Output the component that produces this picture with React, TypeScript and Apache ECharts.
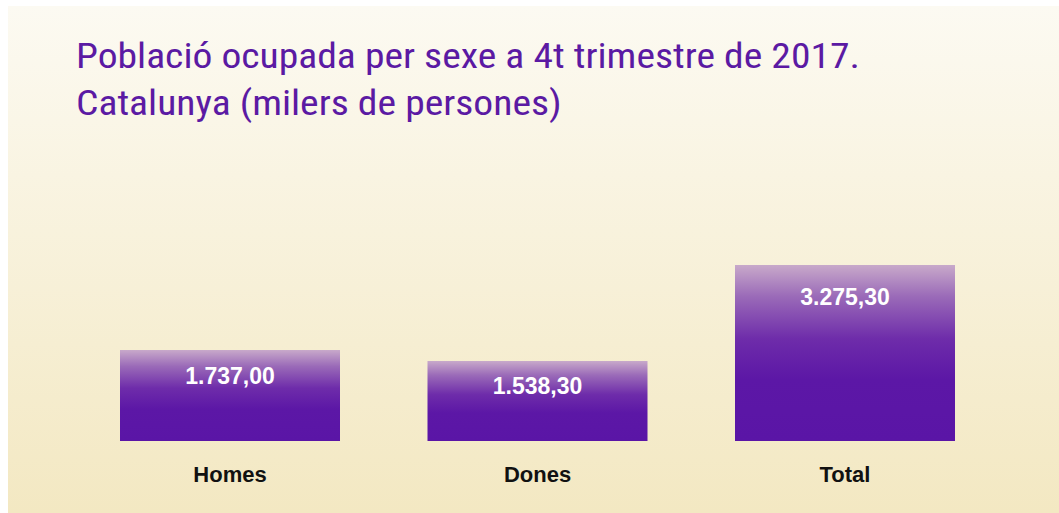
import React, { useEffect, useRef } from "react";
import * as echarts from "echarts";

const titleText = "Població ocupada per sexe a 4t trimestre de 2017.\nCatalunya (milers de persones)";
const categories = ["Homes", "Dones", "Total"];
const values = [1737.0, 1538.3, 3275.3];
const labelTexts = ["1.737,00", "1.538,30", "3.275,30"];
const labelDistances = [14, 14, 20];

export default function App() {
  const ref = useRef<HTMLDivElement>(null);
  useEffect(() => {
    if (!ref.current) return;
    const chart = echarts.init(ref.current, null, { renderer: "svg" });
    const barGradient = new echarts.graphic.LinearGradient(0, 0, 0, 1, [
      { offset: 0, color: "#c8a9ca" },
      { offset: 0.18, color: "#9a6ab8" },
      { offset: 0.42, color: "#6e2caa" },
      { offset: 0.65, color: "#5c17a6" },
      { offset: 1, color: "#5a15a6" },
    ]);
    chart.setOption({
      animation: false,
      backgroundColor: new echarts.graphic.LinearGradient(0, 0, 0, 1, [
        { offset: 0, color: "#fcfaf2" },
        { offset: 1, color: "#f3e8c2" },
      ]),
      graphic: [
        {
          type: "text",
          x: 68,
          y: 26,
          scaleX: 1.1,
          style: {
            text: titleText,
            fontFamily: "'Liberation Sans Narrow', 'Roboto Condensed', Roboto, sans-serif",
            fontSize: 36,
            fontWeight: "normal",
            fill: "#5b1aa3",
            lineHeight: 47,
            verticalAlign: "top",
            align: "left",
          },
        },
      ],
      grid: { left: 68.25, right: 60.25, top: 246.6, bottom: 72 },
      xAxis: {
        type: "category",
        data: categories,
        axisLine: { show: false },
        axisTick: { show: false },
        axisLabel: {
          margin: 22,
          fontFamily: "'Liberation Sans', Arial, sans-serif",
          fontSize: 22,
          fontWeight: "bold",
          color: "#111",
        },
      },
      yAxis: {
        type: "value",
        min: 90,
        max: 3500,
        show: false,
        splitLine: { show: false },
      },
      series: [
        {
          type: "bar",
          barWidth: 220,
          data: values.map((v, i) => ({
            value: v,
            label: {
              show: true,
              position: "insideTop",
              distance: labelDistances[i],
              formatter: () => labelTexts[i],
            },
          })),
          itemStyle: { color: barGradient },
          label: {
            show: true,
            color: "#ffffff",
            fontFamily: "'Liberation Sans', Arial, sans-serif",
            fontSize: 23,
            fontWeight: "bold",
          },
        },
      ],
    });
    return () => chart.dispose();
  }, []);
  return (
    <div
      ref={ref}
      style={{ position: "absolute", left: 8, top: 6, width: 1051, height: 507 }}
    />
  );
}
